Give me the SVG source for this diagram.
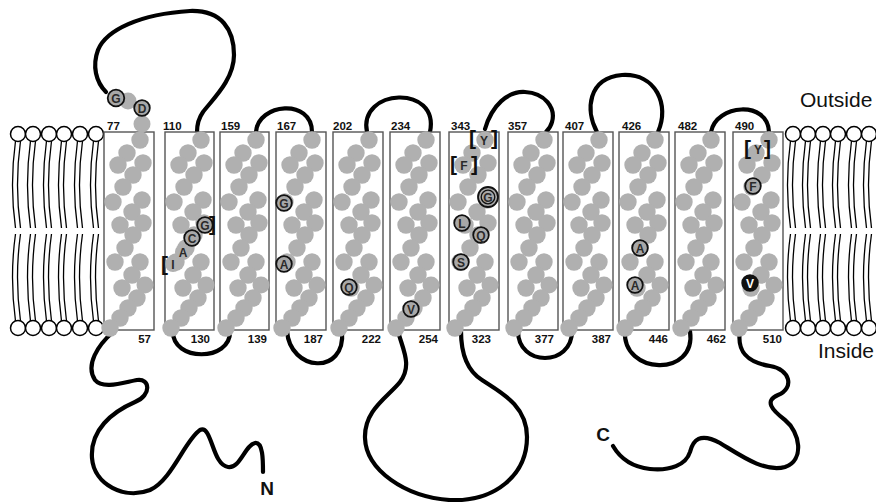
<svg xmlns="http://www.w3.org/2000/svg" xmlns:xlink="http://www.w3.org/1999/xlink" width="876" height="502" viewBox="0 0 876 502">
  <style>
    .box { fill: #ffffff; stroke: #555555; stroke-width: 1.4; }
    .num { font-family: "Liberation Sans", Arial, sans-serif; font-weight: bold; font-size: 11.5px; fill: #111111; }
    .numr { font-family: "Liberation Sans", Arial, sans-serif; font-weight: bold; font-size: 11.5px; fill: #111111; text-anchor: end; }
    .side { font-family: "Liberation Sans", Arial, sans-serif; font-size: 21px; fill: #111111; }
    .term { font-family: "Liberation Sans", Arial, sans-serif; font-weight: bold; font-size: 19px; fill: #111111; text-anchor: middle; }
    .loop { fill: none; stroke: #000000; stroke-width: 4.2; stroke-linecap: round; stroke-linejoin: round; }
    .res { fill: #b0b0b0; }
    .ring { fill: #a8a8a8; stroke: #111111; stroke-width: 1.8; }
    .dark { fill: #111111; stroke: #111111; stroke-width: 1.8; }
    .aa { font-family: "Liberation Sans", Arial, sans-serif; font-weight: bold; font-size: 12px; fill: #2a2a2a; text-anchor: middle; }
    .aaw { font-family: "Liberation Sans", Arial, sans-serif; font-weight: bold; font-size: 12px; fill: #ffffff; text-anchor: middle; }
    .br { font-family: "Liberation Sans", Arial, sans-serif; font-weight: bold; font-size: 21px; fill: #111111; }
    .head { fill: #ffffff; stroke: #000000; stroke-width: 1.5; }
    .tail { fill: none; stroke: #000000; stroke-width: 1.3; }
  </style>
  <defs>
    <!-- one phospholipid pair: outer and inner head groups with their acyl chains -->
    <g id="lipid">
      <path class="tail" d="M-2.5,141 Q-8.5,185 -2.5,228 M2.5,141 Q-3.5,185 2.5,228"/>
      <path class="tail" d="M-2.5,234 Q-8.5,277 -2.5,321 M2.5,234 Q-3.5,277 2.5,321"/>
      <circle class="head" cx="0" cy="134" r="7.5"/>
      <circle class="head" cx="0" cy="328" r="7.5"/>
    </g>
    <!-- helical net of residues inside one transmembrane box -->
    <g id="helix" class="res">
      <circle cx="36" cy="8" r="8.7"/><circle cx="23" cy="21" r="8.7"/><circle cx="14" cy="33" r="8.7"/>
      <circle cx="39" cy="31" r="8.7"/><circle cx="29" cy="43" r="8.7"/><circle cx="19" cy="55" r="8.7"/><circle cx="9" cy="70" r="8.7"/>
      <circle cx="38" cy="68" r="8.7"/><circle cx="28" cy="80" r="8.7"/><circle cx="16" cy="93" r="8.7"/>
      <circle cx="39" cy="91" r="8.7"/><circle cx="29" cy="103" r="8.7"/><circle cx="21" cy="116" r="8.7"/><circle cx="11" cy="130" r="8.7"/>
      <circle cx="36" cy="130" r="8.7"/><circle cx="28" cy="143" r="8.7"/><circle cx="18" cy="156" r="8.7"/>
      <circle cx="41" cy="153" r="8.5"/><circle cx="33" cy="166" r="8.7"/><circle cx="24" cy="176" r="8.7"/><circle cx="16" cy="186" r="8.7"/><circle cx="6" cy="196" r="8.7"/>
    </g>
  </defs>

  <rect width="876" height="502" fill="#ffffff"/>

  <!-- bilayer, left and right of the helix bundle -->
  <g id="membrane-left">
    <use xlink:href="#lipid" x="18"/><use xlink:href="#lipid" x="33"/><use xlink:href="#lipid" x="49"/>
    <use xlink:href="#lipid" x="64"/><use xlink:href="#lipid" x="80"/><use xlink:href="#lipid" x="96"/>
  </g>
  <g id="membrane-right">
    <use xlink:href="#lipid" x="793"/><use xlink:href="#lipid" x="808"/><use xlink:href="#lipid" x="823"/>
    <use xlink:href="#lipid" x="838"/><use xlink:href="#lipid" x="854"/><use xlink:href="#lipid" x="869"/>
  </g>

  <!-- loops between the transmembrane segments -->
  <g id="connectors">
    <path class="loop" d="M106,92 C96,82 92,66 98,50 C106,30 140,14 190,11 C222,10 234,30 234,55 C234,80 212,100 203,112 C198,119 197,125 197,132"/>
    <path class="loop" d="M256,132 C258,103 312,98 312,132"/>
    <path class="loop" d="M367,132 C358,88 440,84 430,132"/>
    <path class="loop" d="M485,129 C492,105 508,91 525,92 C545,93 556,108 552,122 C551,126 549,129 546,132"/>
    <path class="loop" d="M597,132 C585,110 588,78 622,75 C656,73 670,105 658,132"/>
    <path class="loop" d="M711,132 C716,104 768,100 769,132"/>
    <path class="loop" d="M113,332 C98,345 85,365 95,380 C103,390 125,382 137,380 C150,378 152,395 135,402 C112,412 90,430 92,458 C94,485 125,500 150,490 C172,480 185,440 200,430 C212,424 212,465 228,467 C240,469 245,445 255,443 C263,442 263,460 263,472"/>
    <path class="loop" d="M173,331 C172,362 231,362 230,331"/>
    <path class="loop" d="M287,331 C290,372 346,376 342,331"/>
    <path class="loop" d="M398,331 C402,348 413,365 400,382 C388,397 364,410 365,438 C366,470 405,497 450,500 C495,502 527,475 527,437 C527,405 500,392 482,380 C466,370 461,352 461,331"/>
    <path class="loop" d="M518,331 C518,367 572,367 572,331"/>
    <path class="loop" d="M625,331 C622,375 697,378 690,331"/>
    <path class="loop" d="M740,331 C737,350 745,362 770,366 C790,369 795,388 778,395 C764,401 772,410 785,420 C800,432 805,460 785,467 C765,473 740,455 720,443 C700,432 693,440 690,452 C686,465 670,471 650,469 C632,467 620,458 613,446"/>
  </g>

  <!-- transmembrane segments -->
  <g id="tm1">
    <rect class="box" x="104" y="132" width="50" height="198"/>
    <use xlink:href="#helix" transform="translate(104,132)"/>
    <circle class="res" cx="142" cy="124" r="8.5"/>
    <circle class="res" cx="128" cy="101" r="8.5"/>
    <circle class="ring" cx="116" cy="98" r="8.3"/><text class="aa" x="116" y="102.5">G</text>
    <circle class="ring" cx="142" cy="108" r="7.8"/><text class="aa" x="142" y="112.5">D</text>
    <text class="num" x="107" y="130">77</text>
    <text class="numr" x="151" y="343">57</text>
  </g>
  <g id="tm2">
    <rect class="box" x="165" y="132" width="49" height="198"/>
    <use xlink:href="#helix" transform="translate(165,132)"/>
    <circle class="ring" cx="205" cy="225" r="7.8"/><text class="aa" x="205" y="229.5">G</text>
    <circle class="ring" cx="192" cy="238" r="7.8"/><text class="aa" x="192" y="242.5">C</text>
    <circle class="res" cx="183" cy="252" r="8"/><text class="aa" x="183" y="256.5">A</text>
    <circle class="res" cx="173" cy="264" r="8"/><text class="aa" x="173" y="268.5">I</text>
    <text class="br" x="209" y="231">]</text>
    <text class="br" x="161" y="271">[</text>
    <text class="num" x="163" y="130">110</text>
    <text class="numr" x="210" y="343">130</text>
  </g>
  <g id="tm3">
    <rect class="box" x="220" y="132" width="49" height="198"/>
    <use xlink:href="#helix" transform="translate(220,132)"/>
    <text class="num" x="221" y="130">159</text>
    <text class="numr" x="267" y="343">139</text>
  </g>
  <g id="tm4">
    <rect class="box" x="276" y="132" width="50" height="198"/>
    <use xlink:href="#helix" transform="translate(276,132)"/>
    <circle class="ring" cx="284" cy="203" r="7.8"/><text class="aa" x="284" y="207.5">G</text>
    <circle class="ring" cx="284" cy="264" r="7.8"/><text class="aa" x="284" y="268.5">A</text>
    <text class="num" x="277" y="130">167</text>
    <text class="numr" x="323" y="343">187</text>
  </g>
  <g id="tm5">
    <rect class="box" x="333" y="132" width="50" height="198"/>
    <use xlink:href="#helix" transform="translate(333,132)"/>
    <circle class="ring" cx="349" cy="287" r="7.8"/><text class="aa" x="349" y="291.5">Q</text>
    <text class="num" x="333" y="130">202</text>
    <text class="numr" x="381" y="343">222</text>
  </g>
  <g id="tm6">
    <rect class="box" x="390" y="132" width="50" height="198"/>
    <use xlink:href="#helix" transform="translate(390,132)"/>
    <circle class="ring" cx="411" cy="309" r="7.8"/><text class="aa" x="411" y="313.5">V</text>
    <text class="num" x="391" y="130">234</text>
    <text class="numr" x="438" y="343">254</text>
  </g>
  <g id="tm7">
    <rect class="box" x="449" y="132" width="50" height="198"/>
    <use xlink:href="#helix" transform="translate(449,132)"/>
    <text class="aa" x="484" y="144.5">Y</text>
    <text class="br" x="469" y="145">[</text><text class="br" x="491" y="145">]</text>
    <text class="aa" x="464" y="169.5">F</text>
    <text class="br" x="450" y="171">[</text><text class="br" x="471" y="171">]</text>
    <circle class="ring" cx="488" cy="197" r="10"/>
    <circle class="ring" cx="488" cy="197" r="6.8" style="stroke-width:1.3"/><text class="aa" x="488" y="201.5">G</text>
    <circle class="ring" cx="462" cy="223" r="7.8"/><text class="aa" x="462" y="227.5">L</text>
    <circle class="ring" cx="481" cy="235" r="7.8"/><text class="aa" x="481" y="239.5">Q</text>
    <circle class="ring" cx="461" cy="262" r="7.8"/><text class="aa" x="461" y="266.5">S</text>
    <text class="num" x="451" y="130">343</text>
    <text class="numr" x="491" y="343">323</text>
  </g>
  <g id="tm8">
    <rect class="box" x="508" y="132" width="50" height="198"/>
    <use xlink:href="#helix" transform="translate(508,132)"/>
    <text class="num" x="508" y="130">357</text>
    <text class="numr" x="554" y="343">377</text>
  </g>
  <g id="tm9">
    <rect class="box" x="563" y="132" width="50" height="198"/>
    <use xlink:href="#helix" transform="translate(563,132)"/>
    <text class="num" x="565" y="130">407</text>
    <text class="numr" x="611" y="343">387</text>
  </g>
  <g id="tm10">
    <rect class="box" x="619" y="132" width="50" height="198"/>
    <use xlink:href="#helix" transform="translate(619,132)"/>
    <circle class="ring" cx="640" cy="248" r="7.8"/><text class="aa" x="640" y="252.5">A</text>
    <circle class="ring" cx="635" cy="285" r="7.8"/><text class="aa" x="635" y="289.5">A</text>
    <text class="num" x="622" y="130">426</text>
    <text class="numr" x="668" y="343">446</text>
  </g>
  <g id="tm11">
    <rect class="box" x="675" y="132" width="50" height="198"/>
    <use xlink:href="#helix" transform="translate(675,132)"/>
    <text class="num" x="678" y="130">482</text>
    <text class="numr" x="726" y="343">462</text>
  </g>
  <g id="tm12">
    <rect class="box" x="733" y="132" width="50" height="198"/>
    <use xlink:href="#helix" transform="translate(733,132)"/>
    <text class="aa" x="758" y="153.5">Y</text>
    <text class="br" x="744" y="155">[</text><text class="br" x="764" y="155">]</text>
    <circle class="ring" cx="753" cy="186" r="7.8"/><text class="aa" x="753" y="190.5">F</text>
    <circle class="dark" cx="750" cy="283" r="7.8"/><text class="aaw" x="750" y="287.5">V</text>
    <text class="num" x="735" y="130">490</text>
    <text class="numr" x="782" y="343">510</text>
  </g>

  <!-- compartment and terminus labels -->
  <text class="side" x="800" y="107">Outside</text>
  <text class="side" x="818" y="358">Inside</text>
  <text class="term" x="267" y="495">N</text>
  <text class="term" x="603" y="441">C</text>
</svg>
